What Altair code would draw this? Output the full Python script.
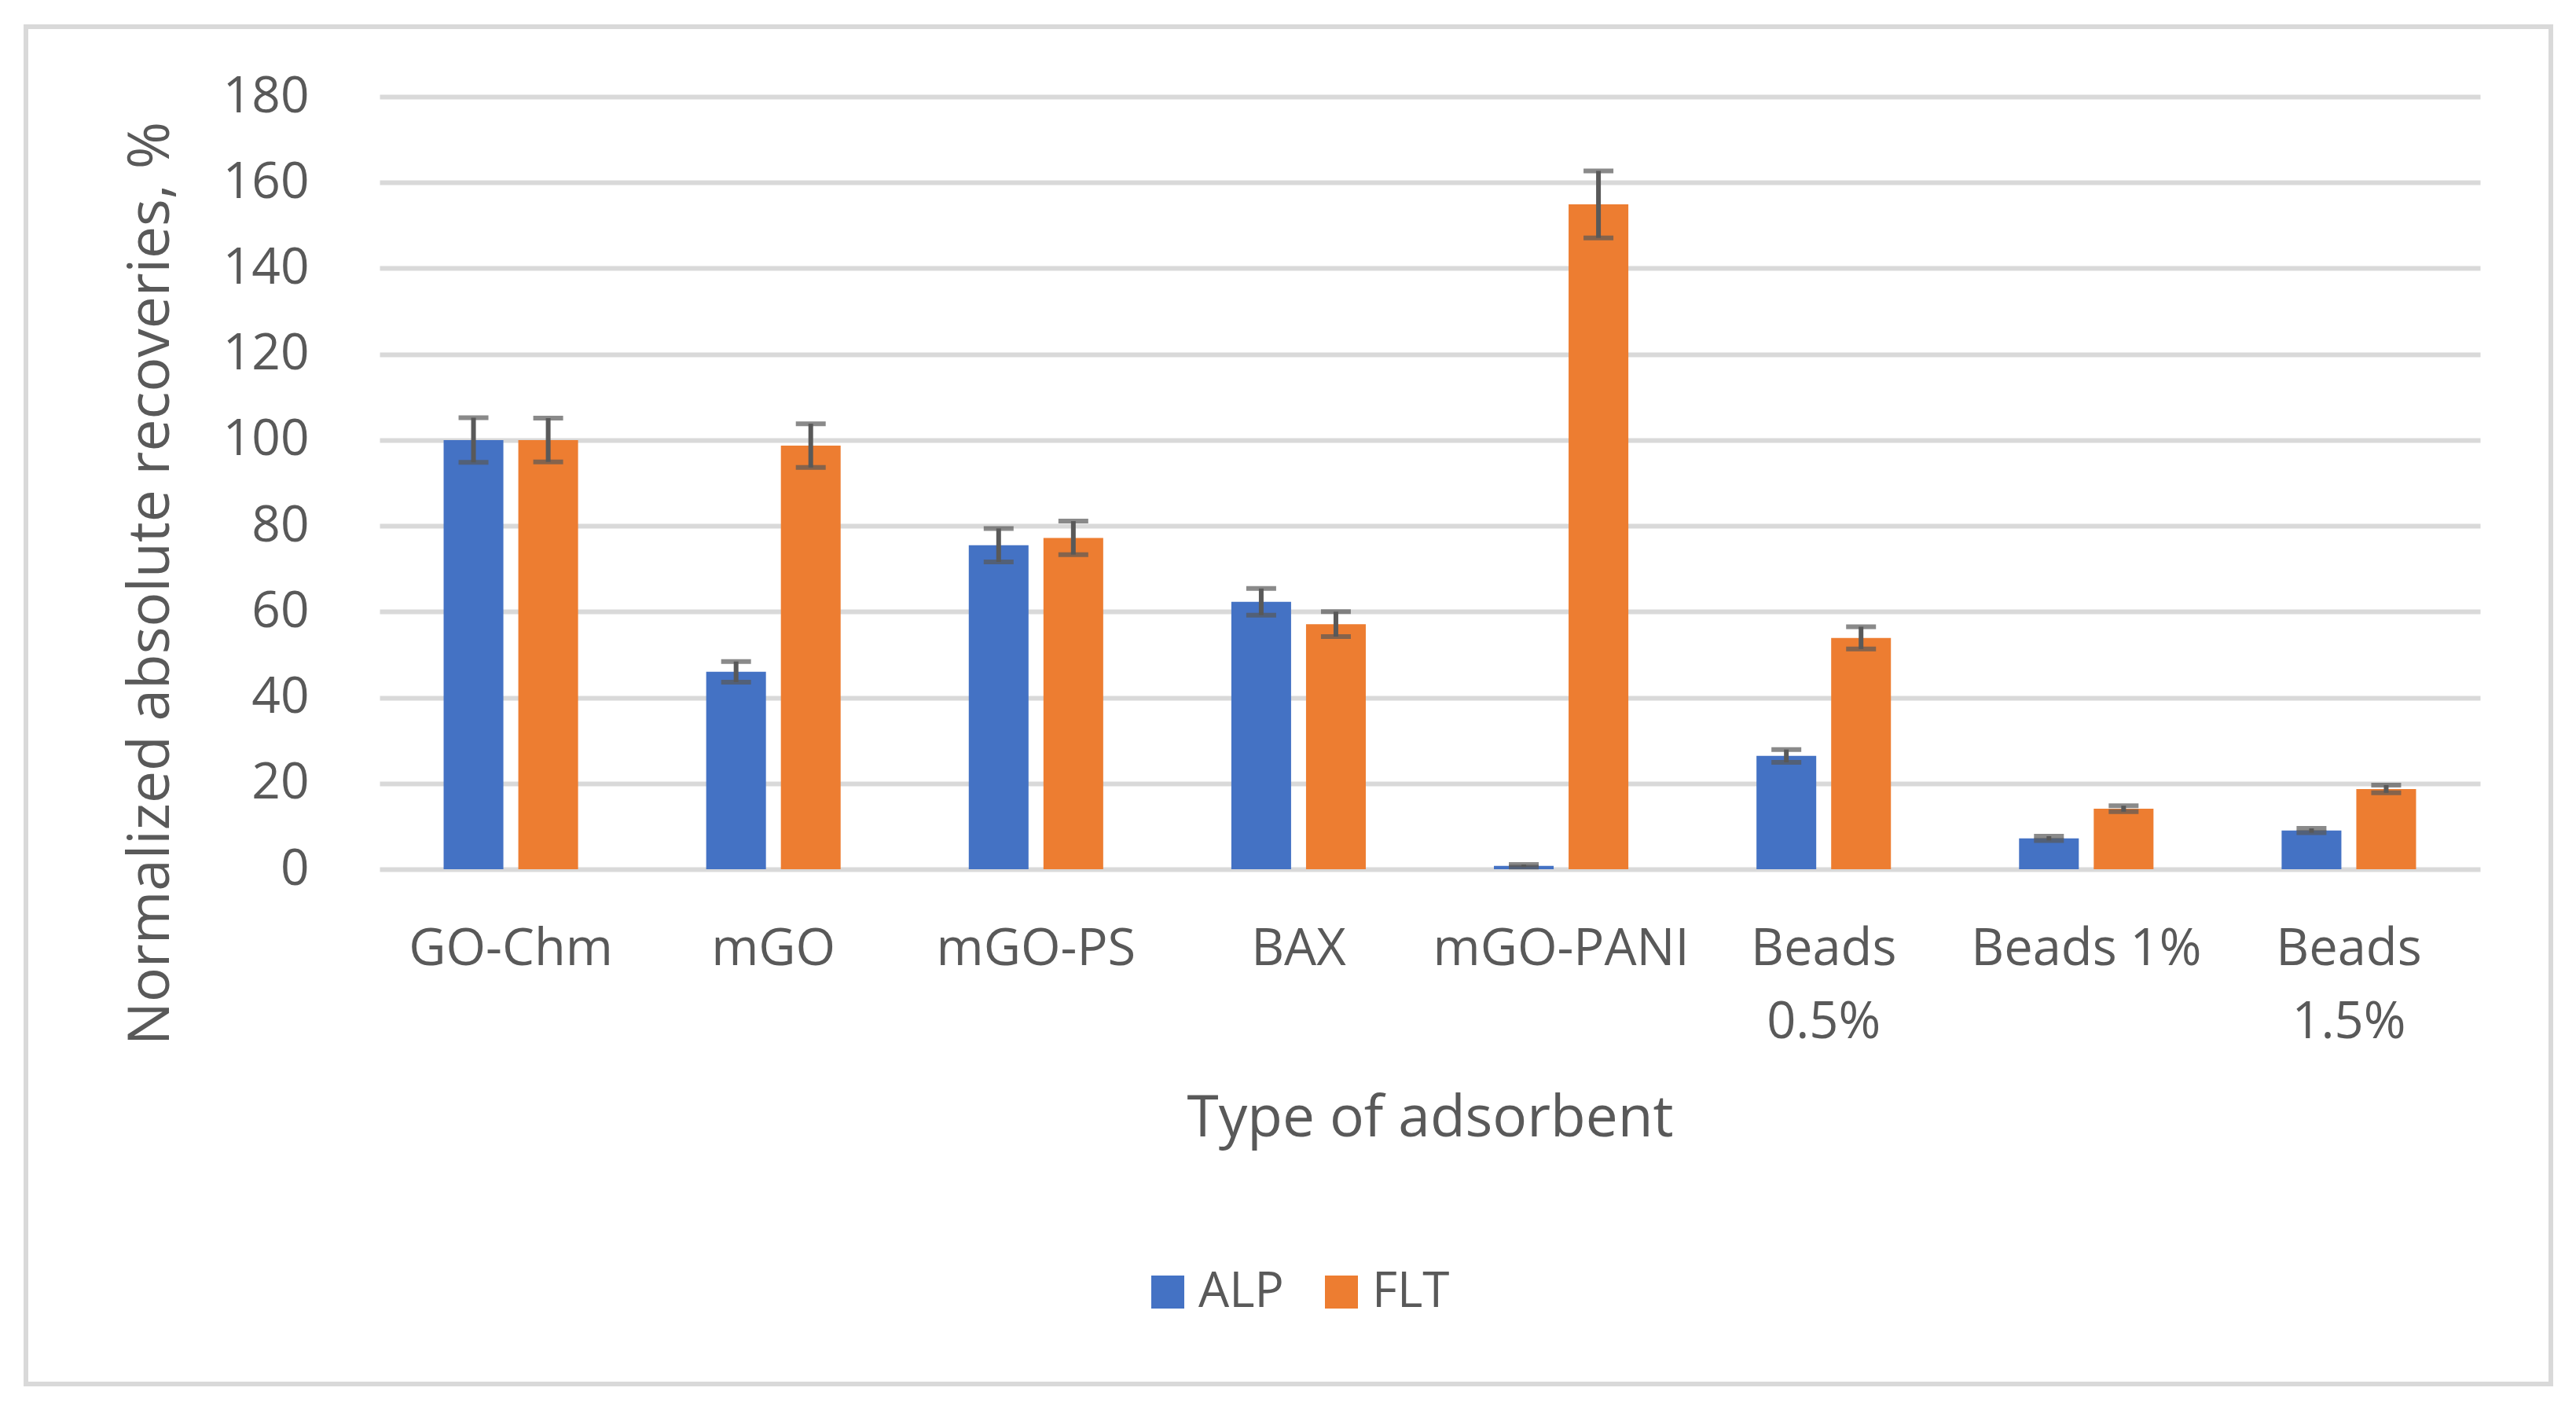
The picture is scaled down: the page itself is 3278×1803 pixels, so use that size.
import altair as alt
import pandas as pd

categories = ["GO-Chm", "mGO", "mGO-PS", "BAX", "mGO-PANI", "Beads 0.5%", "Beads 1%", "Beads 1.5%"]
series = ["ALP", "FLT"]
alp_values = [100.0, 46.0, 75.5, 62.3, 0.8, 26.4, 7.2, 9.0]
alp_errors = [5.2, 2.4, 3.9, 3.1, 0.3, 1.5, 0.5, 0.5]
flt_values = [100.0, 98.7, 77.2, 57.1, 154.9, 53.9, 14.1, 18.7]
flt_errors = [5.1, 5.1, 3.9, 2.9, 7.8, 2.6, 0.7, 0.9]
colors = ["#4472C4", "#ED7D31"]

rows = []
for i, c in enumerate(categories):
    rows.append({"cat": c, "series": "ALP", "value": alp_values[i], "err": alp_errors[i]})
    rows.append({"cat": c, "series": "FLT", "value": flt_values[i], "err": flt_errors[i]})
df = pd.DataFrame(rows)
df["lo"] = df["value"] - df["err"]
df["hi"] = df["value"] + df["err"]

TXT = "#595959"
FONT = "Open Sans"
W, H = 2673, 983

x_enc = alt.X(
    "cat:N",
    sort=categories,
    scale=alt.Scale(paddingInner=0.488, paddingOuter=0.244),
    axis=alt.Axis(
        title="Type of adsorbent",
        labelAngle=0,
        labelExpr="datum.value == 'Beads 0.5%' ? ['Beads', '0.5%'] : datum.value == 'Beads 1.5%' ? ['Beads', '1.5%'] : datum.value",
        labelFontSize=65,
        labelLineHeight=93,
        labelPadding=70,
        labelBaseline="top",
        labelColor=TXT,
        labelFont=FONT,
        labelLimit=0,
        labelOverlap=False,
        ticks=False,
        domain=False,
        grid=False,
        titleFontSize=73,
        titleFont=FONT,
        titleColor=TXT,
        titleFontWeight="normal",
        titleBaseline="alphabetic",
        titleY=339,
        titleX=W / 2,
        titleAlign="center",
    ),
)
xoff_enc = alt.XOffset("series:N", sort=series, scale=alt.Scale(paddingInner=0.2, paddingOuter=0))

y_axis = alt.Axis(
    title="Normalized absolute recoveries, %",
    values=list(range(0, 181, 20)),
    labelFontSize=64,
    labelFont=FONT,
    labelColor=TXT,
    labelPadding=90,
    ticks=False,
    domain=False,
    grid=True,
    gridColor="#D9D9D9",
    gridWidth=6,
    titleFontSize=73,
    titleFont=FONT,
    titleColor=TXT,
    titleFontWeight="normal",
    titleX=-291,
    titleY=619,
    titleAngle=270,
    titleBaseline="middle",
    titleAlign="center",
)

base = alt.Chart(df)

bars = base.mark_bar().encode(
    x=x_enc,
    xOffset=xoff_enc,
    y=alt.Y("value:Q", scale=alt.Scale(domain=[0, 180], nice=False), axis=y_axis),
    color=alt.Color(
        "series:N",
        sort=series,
        scale=alt.Scale(domain=series, range=colors),
        legend=alt.Legend(
            title=None,
            orient="none",
            legendX=972,
            legendY=1490,
            direction="horizontal",
            symbolType="square",
            symbolSize=1764,
            symbolStrokeWidth=0,
            labelFontSize=62,
            labelFont=FONT,
            labelColor=TXT,
            labelOffset=8,
            columnPadding=42,
            padding=0,
        ),
    ),
)

rules = base.mark_rule(color="#595959", strokeWidth=6).encode(
    x=x_enc, xOffset=xoff_enc, y="lo:Q", y2="hi:Q"
)
tick_hi = base.mark_tick(color="#595959", thickness=6, size=38).encode(
    x=x_enc, xOffset=xoff_enc, y="hi:Q"
)
tick_lo = base.mark_tick(color="#595959", thickness=6, size=38).encode(
    x=x_enc, xOffset=xoff_enc, y="lo:Q"
)

border = alt.Chart(pd.DataFrame({"a": [0]})).mark_rect(
    filled=False, stroke="#D9D9D9", strokeWidth=6
).encode(
    x=alt.value(-450), x2=alt.value(2763), y=alt.value(-89), y2=alt.value(1638)
)

chart = alt.layer(border, bars, rules, tick_hi, tick_lo).properties(
    width=W,
    height=H,
    autosize=alt.AutoSizeParams(type="none"),
    padding={"left": 475, "top": 115, "right": 100, "bottom": 670},
    background="white",
).configure_view(stroke=None)

chart.save("out.html", embed_options={"renderer": "svg", "actions": False})
